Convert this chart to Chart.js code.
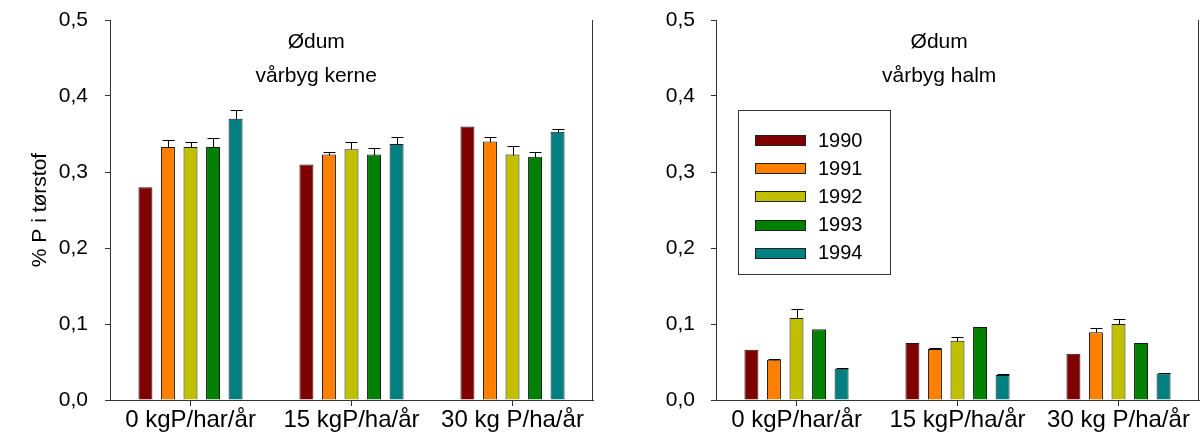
<!DOCTYPE html>
<html>
<head>
<meta charset="utf-8">
<script src="https://cdn.jsdelivr.net/npm/chart.js@4.4.1/dist/chart.umd.min.js"></script>
<style>
  html, body { margin: 0; padding: 0; background: #fff; }
  #wrap { position: relative; width: 1200px; height: 444px; }
  .panel { position: absolute; top: 0; width: 600px; height: 444px; }
</style>
</head>
<body>
<div id="wrap">
  <div class="panel" style="left:0"><canvas id="kerne" width="600" height="444"></canvas></div>
  <div class="panel" style="left:600px"><canvas id="halm" width="600" height="444"></canvas></div>
</div>
<script>
// Fertiliser levels (x categories) and harvest years (series)
const categories = ['0 kgP/har/år', '15 kgP/ha/år', '30 kg P/ha/år'];
const years = ['1990', '1991', '1992', '1993', '1994'];
const yearColors = ['#800000', '#FF8000', '#C0C000', '#008000', '#008080'];
const yTickLabels = ['0,0', '0,1', '0,2', '0,3', '0,4', '0,5'];

// Spring barley grain (vårbyg kerne), % P in dry matter
const kerne1990 = [0.280, 0.310, 0.360];
const kerne1991 = [0.333, 0.323, 0.340];
const kerne1992 = [0.333, 0.330, 0.323];
const kerne1993 = [0.333, 0.323, 0.320];
const kerne1994 = [0.370, 0.337, 0.353];
// upper error (standard error) for the grain bars
const kerneErr1990 = [0, 0, 0];
const kerneErr1991 = [0.009, 0.003, 0.006];
const kerneErr1992 = [0.007, 0.010, 0.011];
const kerneErr1993 = [0.012, 0.009, 0.006];
const kerneErr1994 = [0.012, 0.009, 0.003];

// Spring barley straw (vårbyg halm), % P in dry matter
const halm1990 = [0.066, 0.075, 0.061];
const halm1991 = [0.053, 0.067, 0.089];
const halm1992 = [0.108, 0.078, 0.100];
const halm1993 = [0.093, 0.096, 0.075];
const halm1994 = [0.041, 0.033, 0.035];
const halmErr1990 = [0, 0, 0];
const halmErr1991 = [0.0015, 0.001, 0.006];
const halmErr1992 = [0.012, 0.005, 0.006];
const halmErr1993 = [0, 0, 0];
const halmErr1994 = [0.001, 0.001, 0.001];

const FONT = "'Liberation Sans', Arial, Helvetica, sans-serif";
const AXIS = '#333333';

// Frame, in-plot captions, upward error bars and (optionally) an in-plot legend
const panelDecor = {
  id: 'panelDecor',
  afterDatasetsDraw(chart, args, opts) {
    const ctx = chart.ctx;
    const y = chart.scales.y;
    ctx.save();
    ctx.strokeStyle = '#000';
    ctx.lineWidth = 1;
    chart.data.datasets.forEach((ds, i) => {
      const meta = chart.getDatasetMeta(i);
      meta.data.forEach((bar, j) => {
        const e = ds.errors[j];
        if (!e) return;
        const yBar = Math.round(bar.y) + 0.5;
        const yTop = Math.round(y.getPixelForValue(ds.data[j] + e)) + 0.5;
        const cx = Math.round(bar.x) + 0.5;
        const half = Math.round(bar.width * 0.42);
        ctx.beginPath();
        ctx.moveTo(cx, yBar);
        ctx.lineTo(cx, yTop);
        ctx.moveTo(cx - half, yTop);
        ctx.lineTo(cx + half, yTop);
        ctx.stroke();
      });
    });
    ctx.restore();
  },
  afterDraw(chart, args, opts) {
    const ctx = chart.ctx;
    const area = chart.chartArea;
    ctx.save();
    // right-hand frame line
    ctx.strokeStyle = AXIS;
    ctx.lineWidth = 1;
    ctx.beginPath();
    ctx.moveTo(Math.round(area.right) - 0.5, area.top);
    ctx.lineTo(Math.round(area.right) - 0.5, area.bottom);
    ctx.stroke();

    // captions
    ctx.fillStyle = '#000';
    ctx.font = '21px ' + FONT;
    ctx.textAlign = 'center';
    ctx.textBaseline = 'alphabetic';
    const cx = area.left + (area.right - area.left) * opts.captionX;
    ctx.fillText(opts.caption[0], cx, area.top + 28);
    ctx.fillText(opts.caption[1], cx, area.top + 62);

    // legend
    if (opts.legend) {
      const lx = area.left + 22, ly = area.top + 90;
      ctx.strokeStyle = AXIS;
      ctx.strokeRect(lx + 0.5, ly + 0.5, 152, 164);
      ctx.font = '20px ' + FONT;
      ctx.textAlign = 'left';
      ctx.textBaseline = 'middle';
      chart.data.datasets.forEach((ds, i) => {
        const ry = ly + 30 + i * 28.2;
        ctx.fillStyle = ds.backgroundColor;
        ctx.fillRect(lx + 17, Math.round(ry - 5), 51, 11);
        ctx.strokeStyle = '#222';
        ctx.strokeRect(lx + 17.5, Math.round(ry - 5) + 0.5, 50, 10);
        ctx.fillStyle = '#000';
        ctx.fillText(ds.label, lx + 80, ry + 1);
      });
    }
    ctx.restore();
  }
};

function makeDatasets(values, errors) {
  return years.map((yr, i) => ({
    label: yr,
    data: values[i],
    errors: errors[i],
    backgroundColor: yearColors[i],
    borderColor: '#1a1a1a',
    borderWidth: 1,
    categoryPercentage: 0.70,
    barPercentage: 0.62
  }));
}

function makeChart(id, values, errors, cfg) {
  return new Chart(document.getElementById(id), {
    type: 'bar',
    data: { labels: categories, datasets: makeDatasets(values, errors) },
    options: {
      responsive: false,
      animation: false,
      devicePixelRatio: 1,
      layout: { padding: { top: 20, right: cfg.padRight, bottom: 0, left: 0 } },
      plugins: {
        legend: { display: false },
        tooltip: { enabled: false },
        panelDecor: { caption: cfg.caption, captionX: cfg.captionX, legend: cfg.legend }
      },
      scales: {
        x: {
          afterFit(scale) { scale.height = 44; scale.paddingLeft = 0; scale.paddingRight = 0; },
          grid: { display: true, drawOnChartArea: false, offset: false, tickLength: 6, color: AXIS },
          border: { display: true, color: AXIS, width: 1 },
          ticks: { color: '#000', font: { family: FONT, size: 24 }, padding: 0, maxRotation: 0 }
        },
        y: {
          min: 0, max: 0.5,
          afterFit(scale) { scale.width = cfg.axisWidth; scale.paddingTop = 0; scale.paddingBottom = 0; },
          grid: { display: true, drawOnChartArea: false, tickLength: 5, color: AXIS },
          border: { display: true, color: AXIS, width: 1 },
          ticks: {
            stepSize: 0.1,
            color: '#000',
            font: { family: FONT, size: 21 },
            padding: cfg.tickPad,
            callback: (v, i) => yTickLabels[i]
          },
          title: {
            display: cfg.yTitle !== '',
            text: cfg.yTitle,
            color: '#000',
            font: { family: FONT, size: 21 },
            padding: { top: 28, bottom: 0 }
          }
        }
      }
    },
    plugins: [panelDecor]
  });
}

makeChart('kerne',
  [kerne1990, kerne1991, kerne1992, kerne1993, kerne1994],
  [kerneErr1990, kerneErr1991, kerneErr1992, kerneErr1993, kerneErr1994],
  { caption: ['Ødum', 'vårbyg kerne'], captionX: 0.427, legend: false,
    yTitle: '% P i tørstof', axisWidth: 110, padRight: 7, tickPad: 17 });

makeChart('halm',
  [halm1990, halm1991, halm1992, halm1993, halm1994],
  [halmErr1990, halmErr1991, halmErr1992, halmErr1993, halmErr1994],
  { caption: ['Ødum', 'vårbyg halm'], captionX: 0.462, legend: true,
    yTitle: '', axisWidth: 116, padRight: 1, tickPad: 16 });
</script>
</body>
</html>
